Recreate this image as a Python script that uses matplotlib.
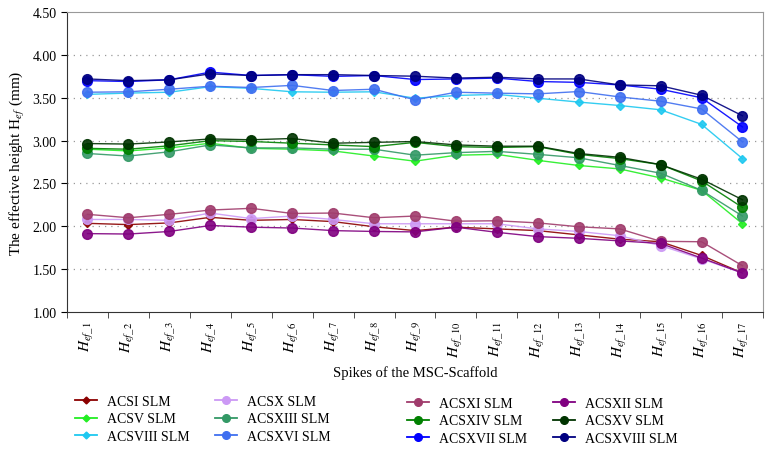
import matplotlib
matplotlib.use("Agg")
import matplotlib.pyplot as plt
from matplotlib.lines import Line2D
import numpy as np

plt.rcParams['font.family'] = ['Liberation Serif', 'DejaVu Serif']
plt.rcParams['mathtext.fontset'] = 'stix'

categories = [r'$H_{ef\_%d}$' % i for i in range(1, 18)]

acsi = [2.035, 2.02, 2.04, 2.105, 2.07, 2.08, 2.055, 1.995, 1.95, 1.99, 1.97, 1.95, 1.90, 1.85, 1.82, 1.66, 1.455]
acsv = [2.90, 2.88, 2.915, 2.97, 2.91, 2.90, 2.88, 2.82, 2.76, 2.83, 2.84, 2.77, 2.71, 2.67, 2.565, 2.42, 2.03]
acsviii = [3.54, 3.555, 3.565, 3.63, 3.61, 3.57, 3.565, 3.57, 3.495, 3.527, 3.54, 3.495, 3.45, 3.41, 3.36, 3.19, 2.79]
acsx = [2.08, 2.08, 2.07, 2.155, 2.09, 2.12, 2.08, 2.03, 2.03, 2.03, 2.03, 1.97, 1.94, 1.89, 1.775, 1.62, 1.455]
acsxi = [2.14, 2.10, 2.14, 2.19, 2.21, 2.15, 2.155, 2.10, 2.12, 2.06, 2.065, 2.04, 1.995, 1.97, 1.825, 1.82, 1.54]
acsxii = [1.915, 1.91, 1.94, 2.01, 1.99, 1.98, 1.95, 1.94, 1.935, 1.99, 1.93, 1.88, 1.86, 1.83, 1.80, 1.63, 1.455]
acsxiii = [2.85, 2.82, 2.87, 2.95, 2.915, 2.915, 2.90, 2.90, 2.83, 2.86, 2.875, 2.84, 2.80, 2.71, 2.62, 2.42, 2.12]
acsxiv = [2.91, 2.90, 2.94, 3.00, 2.99, 2.97, 2.95, 2.93, 2.98, 2.93, 2.92, 2.93, 2.84, 2.79, 2.72, 2.53, 2.22]
acsxv = [2.966, 2.96, 2.985, 3.02, 3.01, 3.025, 2.97, 2.98, 2.99, 2.95, 2.935, 2.935, 2.85, 2.805, 2.72, 2.55, 2.31]
acsxvi = [3.565, 3.57, 3.60, 3.635, 3.62, 3.645, 3.585, 3.60, 3.476, 3.565, 3.554, 3.546, 3.573, 3.51, 3.46, 3.37, 2.985]
acsxvii = [3.70, 3.69, 3.71, 3.80, 3.76, 3.77, 3.75, 3.76, 3.713, 3.72, 3.73, 3.69, 3.68, 3.65, 3.60, 3.50, 3.16]
acsxviii = [3.72, 3.70, 3.71, 3.78, 3.76, 3.77, 3.77, 3.76, 3.752, 3.73, 3.74, 3.72, 3.72, 3.65, 3.64, 3.53, 3.29]

series = [
    ('ACSI SLM', acsi, '#8b0000', 'D'),
    ('ACSV SLM', acsv, '#22ee22', 'D'),
    ('ACSVIII SLM', acsviii, '#1ec8f0', 'D'),
    ('ACSX SLM', acsx, '#cc99f5', 'o'),
    ('ACSXIII SLM', acsxiii, '#339966', 'o'),
    ('ACSXVI SLM', acsxvi, '#3f6ff0', 'o'),
    ('ACSXI SLM', acsxi, '#a03c6c', 'o'),
    ('ACSXIV SLM', acsxiv, '#008000', 'o'),
    ('ACSXVII SLM', acsxvii, '#0000ff', 'o'),
    ('ACSXII SLM', acsxii, '#800080', 'o'),
    ('ACSXV SLM', acsxv, '#003300', 'o'),
    ('ACSXVIII SLM', acsxviii, '#000080', 'o'),
]

fig = plt.figure(figsize=(7.72, 4.52), dpi=100)
ax = fig.add_axes([0.0868, 0.3075, 0.9015, 0.6635])

x = np.arange(len(categories))
handles = {}
for name, vals, col, mk in series:
    ms = 4.5 if mk == 'D' else 7
    ax.plot(x, vals, color=col, marker=mk, markersize=ms, linewidth=1.0, alpha=0.9)
    handles[name] = Line2D([], [], color=col, marker=mk, markersize=3.5 if mk == 'D' else 5.5, linewidth=1.3)

ax.set_xlim(-0.5, 16.5)
ax.set_ylim(1.0, 4.5)
ax.set_yticks(np.arange(1.0, 4.51, 0.5))
ax.set_yticklabels(['%.2f' % v for v in np.arange(1.0, 4.51, 0.5)], fontsize=10)
for v in np.arange(1.5, 4.01, 0.5):
    ax.axhline(v, color='#999999', linestyle=(0, (1, 4)), linewidth=0.9, zorder=0)

ax.set_xticks(x)
ax.set_xticklabels(categories, rotation=90, fontsize=11)
ax.tick_params(axis='x', which='major', length=0, pad=6)
ax.set_xticks(np.arange(-0.5, 16.6, 1.0), minor=True)
ax.tick_params(axis='x', which='minor', length=4, direction='out', color='#333333')
ax.tick_params(axis='y', length=4, direction='out')

ax.spines['top'].set_color('#999999')
ax.spines['right'].set_color('#999999')
ax.spines['left'].set_color('#333333')
ax.spines['bottom'].set_color('#333333')

ax.set_ylabel(r'The effective height H$_{ef}$ (mm)', fontsize=11)
ax.set_xlabel('Spikes of the MSC-Scaffold', fontsize=10.5, labelpad=6)

columns = [
    (['ACSI SLM', 'ACSV SLM', 'ACSVIII SLM'], 75, 396),
    (['ACSX SLM', 'ACSXIII SLM', 'ACSXVI SLM'], 215, 396),
    (['ACSXI SLM', 'ACSXIV SLM', 'ACSXVII SLM'], 407, 398),
    (['ACSXII SLM', 'ACSXV SLM', 'ACSXVIII SLM'], 553, 398),
]
W, H = 772.0, 452.0
for names, px, py in columns:
    leg = fig.legend([handles[n] for n in names], names, frameon=False,
                     loc='upper left', bbox_to_anchor=(px / W, 1 - py / H),
                     fontsize=10, handlelength=1.6, labelspacing=0.32,
                     handletextpad=0.7, borderpad=0, borderaxespad=0)

fig.savefig('out.png', dpi=100)
